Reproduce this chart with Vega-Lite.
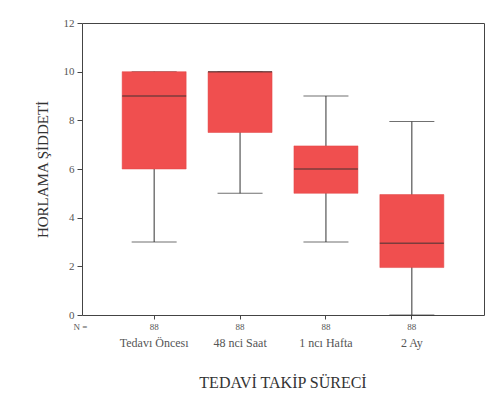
{
  "$schema": "https://vega.github.io/schema/vega-lite/v6.json",
  "autosize": {"type": "none"},
  "padding": {"left": 82, "top": 23, "right": 14, "bottom": 87},
  "width": 402,
  "height": 292,
  "background": "white",
  "config": {
    "view": {"stroke": "#444", "strokeWidth": 1},
    "font": "Liberation Serif, serif",
    "axis": {"labelFont": "Liberation Serif, serif", "titleFont": "Liberation Serif, serif"},
    "title": {"font": "Liberation Serif, serif"}
  },
  "title": {
    "text": "TEDAVİ TAKİP SÜRECİ",
    "orient": "bottom",
    "fontSize": 16,
    "fontWeight": "normal",
    "color": "#333",
    "offset": 27
  },
  "data": {
    "values": [
      {"grup": "Tedavı Öncesı", "lower": 3, "q1": 6, "median": 9, "q3": 10, "upper": 10},
      {"grup": "48 nci Saat", "lower": 5, "q1": 7.5, "median": 10, "q3": 10, "upper": 10},
      {"grup": "1 ncı Hafta", "lower": 3, "q1": 5, "median": 6, "q3": 6.95, "upper": 9},
      {"grup": "2 Ay", "lower": 0, "q1": 1.95, "median": 2.95, "q3": 4.95, "upper": 7.95}
    ]
  },
  "resolve": {"axis": {"x": "independent"}},
  "encoding": {
    "x": {
      "field": "grup",
      "type": "nominal",
      "sort": null,
      "scale": {"type": "band", "paddingInner": 0, "paddingOuter": 0.34}
    }
  },
  "layer": [
    {
      "mark": {"type": "rule", "color": "#333", "strokeWidth": 1},
      "encoding": {
        "x": {
          "field": "grup", "type": "nominal", "sort": null,
          "axis": {
            "orient": "bottom",
            "labelExpr": "'88'",
            "labelFontSize": 9,
            "labelColor": "#555",
            "labelPadding": 3,
            "labelAngle": 0,
            "tickSize": 4,
            "tickColor": "#444",
            "domain": false,
            "title": "N =",
            "titleFontSize": 9,
            "titleFontWeight": "normal",
            "titleColor": "#555",
            "titleX": -9,
            "titleY": 11,
            "titleAlign": "left",
            "titleBaseline": "middle",
            "titleAnchor": "start"
          }
        },
        "y": {
          "field": "lower", "type": "quantitative",
          "scale": {"domain": [0, 12], "nice": false},
          "axis": {
            "values": [0, 2, 4, 6, 8, 10, 12],
            "title": "HORLAMA ŞİDDETİ",
            "titleFontSize": 15,
            "titleFontWeight": "normal",
            "titleColor": "#333",
            "titlePadding": 13,
            "labelFontSize": 11,
            "labelColor": "#555",
            "labelPadding": 3,
            "tickSize": 5,
            "tickColor": "#444",
            "domain": false,
            "grid": false
          }
        },
        "y2": {"field": "upper"}
      }
    },
    {
      "mark": {"type": "tick", "color": "#333", "size": 45, "thickness": 1},
      "encoding": {
        "x": {"field": "grup", "type": "nominal", "sort": null, "axis": null},
        "y": {"field": "lower", "type": "quantitative"}
      }
    },
    {
      "mark": {"type": "tick", "color": "#333", "size": 45, "thickness": 1},
      "encoding": {
        "x": {"field": "grup", "type": "nominal", "sort": null, "axis": null},
        "y": {"field": "upper", "type": "quantitative"}
      }
    },
    {
      "mark": {"type": "bar", "color": "#f04f4f", "size": 64, "stroke": "#e04444", "strokeWidth": 0.5},
      "encoding": {
        "x": {
          "field": "grup", "type": "nominal", "sort": null,
          "axis": {
            "orient": "bottom",
            "labelFontSize": 12,
            "labelColor": "#555",
            "labelPadding": 22,
            "labelAngle": 0,
            "ticks": false,
            "domain": false,
            "title": null
          }
        },
        "y": {"field": "q1", "type": "quantitative"},
        "y2": {"field": "q3"}
      }
    },
    {
      "mark": {"type": "tick", "color": "#4a3434", "size": 64, "thickness": 1.5},
      "encoding": {
        "x": {"field": "grup", "type": "nominal", "sort": null, "axis": null},
        "y": {"field": "median", "type": "quantitative"}
      }
    }
  ]
}
